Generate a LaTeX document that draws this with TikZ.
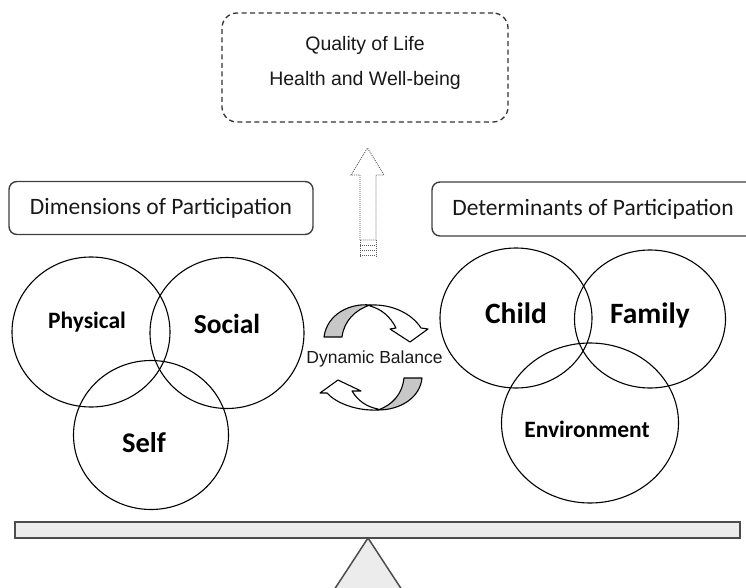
\documentclass[tikz,border=0pt]{standalone}
\usepackage{fontspec}
\setmainfont{Liberation Sans}
\newfontfamily\calib{Carlito}
\usetikzlibrary{shapes.geometric}
\tikzset{
  venn/.style={draw=black, line width=1.1pt, ellipse, inner sep=0pt},
  hdrbox/.style={draw=black!75, line width=1.4pt, rounded corners=8pt, inner sep=0pt},
  hdrtext/.style={font=\calib\fontsize{23.5}{28}\selectfont, text=black!90},
  vlabel/.style={font=\calib\bfseries\fontsize{#1}{#1}\selectfont, text=black},
  frontside/.style={draw=black, line width=1.1pt, fill=white, line join=round},
  backside/.style={draw=black, line width=1.1pt, fill=black!22, line join=round},
  dotline/.style={draw=black!65, line width=0.9pt, dash pattern=on 0.9pt off 1.1pt},
  beam/.style={draw=black!70, line width=1.5pt, fill=gray!15},
}
\begin{document}
\begin{tikzpicture}[x=1pt,y=-1pt]
\clip (0,0) rectangle (746,588);
\fill[white] (0,0) rectangle (746,588);

% top box
\node[draw=black!80, line width=1.3pt, dash pattern=on 5pt off 3.5pt,
      rounded corners=15pt, minimum width=286pt, minimum height=109pt]
      (qol) at (365,67.5) {};
\node[align=center, font=\fontsize{19.5}{35}\selectfont, text=black!90]
      (qoltext) at (365,63) {Quality of Life\\Health and Well-being};

% dotted upward arrow
\path[dotline] (360,240) -- (360,175) -- (351,175) -- (367.5,148) -- (384,175)
   -- (376,175) -- (376,240) -- cycle;
\foreach \yy in {245,250,255}
  \path[dotline] (360,\yy) -- (376,\yy);
\path[dotline] (360,240) -- (360,257);
\path[dotline] (376,240) -- (376,257);

% header boxes
\node[hdrbox, minimum width=304pt, minimum height=53pt] (dimbox) at (161,208) {};
\node[hdrtext] (dimtext) at (161,208) {Dimensions of Participation};
\node[hdrbox, minimum width=322pt, minimum height=54pt] (detbox) at (593,209) {};
\node[hdrtext] (dettext) at (593,209) {Determinants of Participation};

% left venn
\node[venn, minimum width=158pt, minimum height=150pt] (physical) at (91,332) {};
\node[venn, minimum width=154pt, minimum height=151pt] (social) at (227,333) {};
\node[venn, minimum width=155pt, minimum height=149pt] (self) at (151,435) {};
\node[vlabel=23.5] (physicallbl) at (87,322) {Physical};
\node[vlabel=27.5] (sociallbl) at (227,324) {Social};
\node[vlabel=28.5] (selflbl) at (144,443) {Self};

% right venn
\node[venn, minimum width=152pt, minimum height=140pt] (child) at (516,318) {};
\node[venn, minimum width=151pt, minimum height=138pt] (family) at (650,319) {};
\node[venn, minimum width=177pt, minimum height=160pt] (environment) at (590,423) {};
\node[vlabel=29.5] (childlbl) at (516,313) {Child};
\node[vlabel=29.5] (familylbl) at (650,315) {Family};
\node[vlabel=23.5] (environmentlbl) at (587,429) {Environment};

% dynamic balance: upper curved arrow
\path[backside] (324,337) .. controls (327,314) and (350,303) .. (370,305)
   .. controls (355,310) and (344,321) .. (342,337) -- cycle;
\path[frontside] (370,305) .. controls (393,304) and (412,314) .. (421,328)
   -- (428,329) -- (410,342) -- (390,329) -- (396,328)
   .. controls (390,316) and (381,309) .. (370,306) -- cycle;
% lower curved arrow
\path[backside] (422,378) .. controls (420,398) and (400,410) .. (378,410)
   .. controls (392,405) and (402,395) .. (404,378) -- cycle;
\path[frontside] (378,410) .. controls (356,411) and (336,403) .. (327,393)
   -- (320,393) -- (338,380) -- (361,391) -- (352,391)
   .. controls (358,401) and (367,407) .. (378,409) -- cycle;
\node[font=\fontsize{17.5}{20}\selectfont, text=black!90] (balance) at (374.5,359) {Dynamic Balance};

% seesaw
\path[beam] (15,522) rectangle (740,538);
\path[beam] (368,538) -- (402,590) -- (334,590) -- cycle;
\end{tikzpicture}
\end{document}
